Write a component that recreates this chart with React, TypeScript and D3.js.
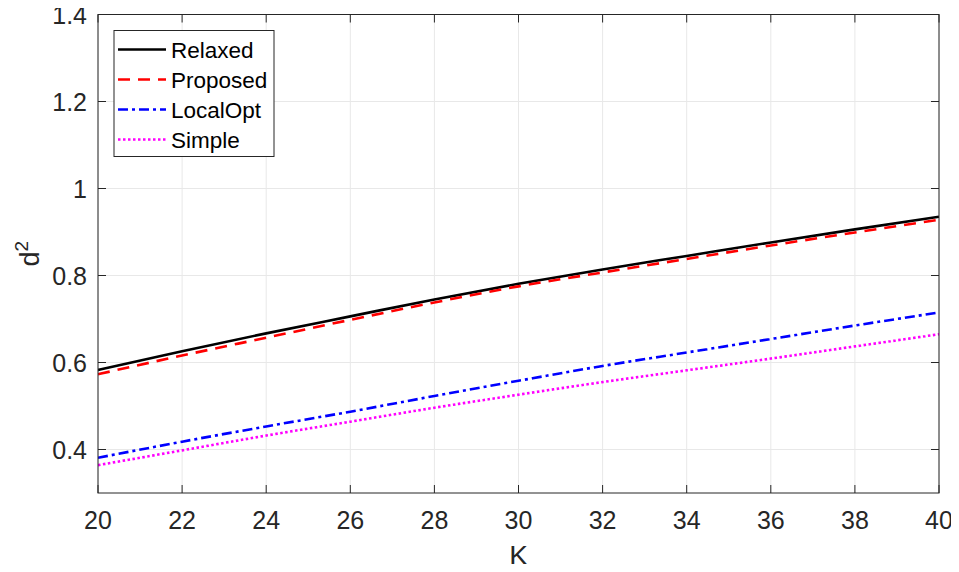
import React, { useEffect, useRef } from 'react';
import * as d3 from 'd3';

// K values on the x axis
const kValues = [20, 22, 24, 26, 28, 30, 32, 34, 36, 38, 40];

// d^2 per method
const relaxed = [0.583, 0.626, 0.667, 0.706, 0.745, 0.781, 0.814, 0.845, 0.876, 0.906, 0.935];
const proposed = [0.573, 0.616, 0.657, 0.698, 0.738, 0.775, 0.807, 0.838, 0.869, 0.899, 0.928];
const localOpt = [0.381, 0.418, 0.453, 0.487, 0.523, 0.558, 0.592, 0.623, 0.654, 0.685, 0.715];
const simple = [0.364, 0.398, 0.432, 0.464, 0.496, 0.526, 0.555, 0.582, 0.609, 0.637, 0.665];

const xTicks = [20, 22, 24, 26, 28, 30, 32, 34, 36, 38, 40];
const yTicks = [0.4, 0.6, 0.8, 1, 1.2, 1.4];

const seriesNames = ['Relaxed', 'Proposed', 'LocalOpt', 'Simple'];
const seriesColors = ['#000000', '#ff0000', '#0000ff', '#ff00ff'];
const seriesDash = ['none', '12,8', '10,4,3,4', '2.5,2.5'];

const W = 959;
const H = 572;
const FONT = "'Liberation Sans', Arial, Helvetica, sans-serif";

export default function App() {
  const ref = useRef<SVGSVGElement>(null);

  useEffect(() => {
    const svg = d3.select(ref.current);
    svg.selectAll('*').remove();

    const left = 98, right = 939, top = 14.5, bottom = 493;
    const x = d3.scaleLinear().domain([20, 40]).range([left, right]);
    const y = d3.scaleLinear().domain([0.3, 1.4]).range([bottom, top]);

    svg.append('rect').attr('width', W).attr('height', H).attr('fill', 'white');

    // grid
    const grid = svg.append('g').attr('stroke', '#e8e8e8').attr('stroke-width', 1);
    xTicks.forEach(t => {
      grid.append('line')
        .attr('x1', x(t)).attr('x2', x(t))
        .attr('y1', top).attr('y2', bottom);
    });
    yTicks.forEach(t => {
      grid.append('line')
        .attr('x1', left).attr('x2', right)
        .attr('y1', y(t)).attr('y2', y(t));
    });

    // data lines
    const allSeries = [relaxed, proposed, localOpt, simple];
    const line = d3.line<number>()
      .x((d, i) => x(kValues[i]))
      .y(d => y(d))
      .curve(d3.curveMonotoneX);

    const clip = svg.append('clipPath').attr('id', 'plotclip');
    clip.append('rect').attr('x', left).attr('y', top)
      .attr('width', right - left).attr('height', bottom - top);

    allSeries.forEach((s, i) => {
      svg.append('path')
        .datum(s)
        .attr('d', line)
        .attr('fill', 'none')
        .attr('clip-path', 'url(#plotclip)')
        .attr('stroke', seriesColors[i])
        .attr('stroke-width', 2.6)
        .attr('stroke-dasharray', seriesDash[i]);
    });

    // axes box with inward ticks
    const axisColor = '#262626';
    const ax = svg.append('g').attr('stroke', axisColor).attr('stroke-width', 1);
    ax.append('rect')
      .attr('x', left).attr('y', top)
      .attr('width', right - left).attr('height', bottom - top)
      .attr('fill', 'none');
    const tl = 8;
    xTicks.forEach(t => {
      ax.append('line').attr('x1', x(t)).attr('x2', x(t)).attr('y1', bottom).attr('y2', bottom - tl);
      ax.append('line').attr('x1', x(t)).attr('x2', x(t)).attr('y1', top).attr('y2', top + tl);
    });
    yTicks.forEach(t => {
      ax.append('line').attr('x1', left).attr('x2', left + tl).attr('y1', y(t)).attr('y2', y(t));
      ax.append('line').attr('x1', right).attr('x2', right - tl).attr('y1', y(t)).attr('y2', y(t));
    });

    // tick labels
    const fmt = d3.format('');
    svg.append('g').selectAll('text')
      .data(xTicks)
      .enter().append('text')
      .attr('x', d => x(d))
      .attr('y', 529)
      .attr('text-anchor', 'middle')
      .attr('font-family', FONT)
      .attr('font-size', 25)
      .attr('fill', axisColor)
      .text(d => fmt(d));

    svg.append('g').selectAll('text')
      .data(yTicks)
      .enter().append('text')
      .attr('x', left - 11)
      .attr('y', d => y(d) + 9)
      .attr('text-anchor', 'end')
      .attr('font-family', FONT)
      .attr('font-size', 25)
      .attr('fill', axisColor)
      .text(d => fmt(d));

    // axis labels
    svg.append('text')
      .attr('x', (left + right) / 2)
      .attr('y', 565)
      .attr('text-anchor', 'middle')
      .attr('font-family', FONT)
      .attr('font-size', 28)
      .attr('fill', axisColor)
      .text('K');

    const yl = svg.append('text')
      .attr('transform', `translate(39, ${(top + bottom) / 2}) rotate(-90)`)
      .attr('text-anchor', 'middle')
      .attr('font-family', FONT)
      .attr('font-size', 27)
      .attr('fill', axisColor);
    yl.append('tspan').text('d');
    yl.append('tspan').attr('font-size', 19).attr('dy', -11).text('2');

    // legend
    const lg = svg.append('g');
    lg.append('rect')
      .attr('x', 114).attr('y', 30.5)
      .attr('width', 160).attr('height', 126)
      .attr('fill', 'white')
      .attr('stroke', '#262626')
      .attr('stroke-width', 1);
    seriesNames.forEach((name, i) => {
      const ly = 49.5 + i * 30;
      lg.append('line')
        .attr('x1', 118).attr('x2', 166)
        .attr('y1', ly).attr('y2', ly)
        .attr('stroke', seriesColors[i])
        .attr('stroke-width', 2.6)
        .attr('stroke-dasharray', seriesDash[i]);
      lg.append('text')
        .attr('x', 171)
        .attr('y', ly + 8)
        .attr('font-family', FONT)
        .attr('font-size', 22.5)
        .attr('fill', '#000')
        .text(name);
    });
  }, []);

  return (
    <div className="chart">
      <svg ref={ref} width={W} height={H} style={{ display: 'block', margin: '-8px' }} />
    </div>
  );
}
